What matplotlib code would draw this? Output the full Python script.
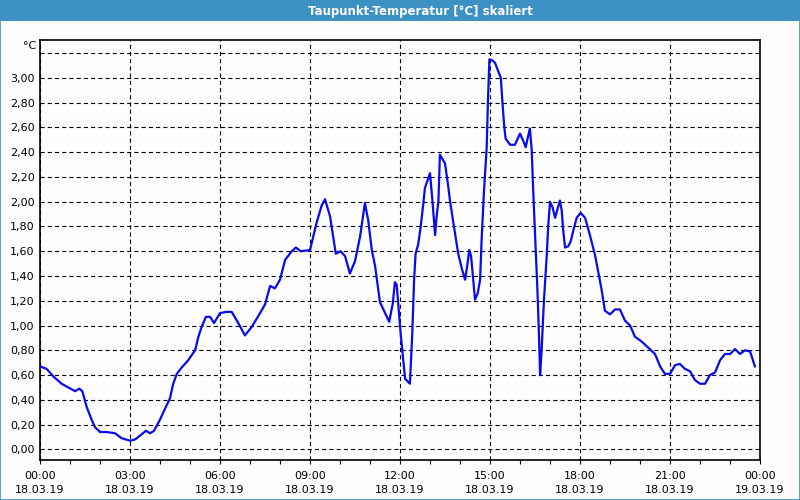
import matplotlib
matplotlib.use("Agg")
import matplotlib.pyplot as plt
from matplotlib.patches import Rectangle
import numpy as np

# time in hours since 18.03.19 00:00, dew point in degC
hours = [0.0, 0.22, 0.44, 0.72, 0.94, 1.17, 1.31, 1.41, 1.56, 1.72, 1.83, 2.0, 2.22, 2.5,
         2.72, 3.0, 3.17, 3.33, 3.53, 3.67, 3.8, 4.0, 4.17, 4.33, 4.44, 4.56, 4.72, 4.94,
         5.17, 5.28, 5.39, 5.53, 5.67, 5.8, 6.0, 6.2, 6.39, 6.61, 6.83, 7.06, 7.31, 7.5,
         7.67, 7.83, 8.0, 8.17, 8.39, 8.53, 8.69, 9.0, 9.22, 9.39, 9.5, 9.67, 9.86, 10.02,
         10.17, 10.33, 10.5, 10.67, 10.83, 10.94, 11.06, 11.17, 11.33, 11.64, 11.76, 11.83,
         11.89, 11.94, 12.02, 12.11, 12.17, 12.33, 12.41, 12.47, 12.52, 12.61, 12.69, 12.78,
         12.83, 13.0, 13.08, 13.13, 13.17, 13.22, 13.28, 13.33, 13.5, 13.61, 13.67, 13.8,
         13.94, 14.06, 14.17, 14.24, 14.31, 14.37, 14.44, 14.5, 14.59, 14.67, 14.72, 14.8,
         14.89, 14.93, 14.98, 15.09, 15.17, 15.28, 15.36, 15.41, 15.47, 15.52, 15.67, 15.83,
         16.0, 16.11, 16.19, 16.28, 16.33, 16.39, 16.44, 16.5, 16.58, 16.63, 16.67, 16.72,
         16.8, 16.89, 16.94, 17.0, 17.09, 17.17, 17.24, 17.33, 17.39, 17.44, 17.5, 17.61,
         17.69, 17.78, 17.89, 18.02, 18.17, 18.33, 18.5, 18.64, 18.72, 18.83, 19.0, 19.17,
         19.33, 19.5, 19.67, 19.83, 20.06, 20.28, 20.5, 20.67, 20.83, 21.0, 21.17, 21.33,
         21.5, 21.67, 21.83, 22.0, 22.17, 22.33, 22.5, 22.67, 22.83, 23.0, 23.17, 23.33,
         23.5, 23.67, 23.83]
taupunkt = [0.67, 0.65, 0.59, 0.53, 0.50, 0.47, 0.49, 0.47, 0.34, 0.24, 0.18, 0.14, 0.14, 0.13,
            0.09, 0.07, 0.08, 0.11, 0.15, 0.13, 0.15, 0.24, 0.33, 0.41, 0.53, 0.61, 0.66, 0.72,
            0.80, 0.91, 0.99, 1.07, 1.07, 1.02, 1.10, 1.11, 1.11, 1.02, 0.92, 0.99, 1.09, 1.17,
            1.32, 1.30, 1.37, 1.53, 1.60, 1.63, 1.60, 1.61, 1.83, 1.97, 2.02, 1.88, 1.58, 1.60,
            1.56, 1.42, 1.52, 1.72, 1.99, 1.85, 1.61, 1.48, 1.19, 1.03, 1.18, 1.35,
            1.33, 1.18, 0.94, 0.72, 0.57, 0.53, 0.94, 1.37, 1.58, 1.66, 1.80, 1.99,
            2.11, 2.23, 2.01, 1.85, 1.73, 1.88, 2.00, 2.38, 2.31, 2.12, 2.00, 1.80,
            1.58, 1.46, 1.37, 1.48, 1.61, 1.56, 1.37, 1.21, 1.26, 1.37, 1.69, 2.09,
            2.44, 2.80, 3.15, 3.14, 3.12, 3.05, 3.00, 2.82, 2.62, 2.51, 2.46, 2.46,
            2.55, 2.49, 2.44, 2.54, 2.59, 2.42, 2.09, 1.75, 1.29, 0.94, 0.60, 0.80,
            1.21, 1.56, 1.80, 2.00, 1.95, 1.87, 1.93, 2.01, 1.93, 1.77, 1.63, 1.64,
            1.68, 1.77, 1.87, 1.91, 1.87, 1.73, 1.57, 1.39, 1.29, 1.12, 1.09, 1.13,
            1.13, 1.04, 1.00, 0.91, 0.87, 0.82, 0.77, 0.67, 0.61, 0.61, 0.68, 0.69,
            0.65, 0.63, 0.56, 0.53, 0.53, 0.60, 0.62, 0.72, 0.77, 0.77, 0.81, 0.77,
            0.80, 0.79, 0.67]

xtick_hours = [0, 3, 6, 9, 12, 15, 18, 21, 24]
xtick_labels = ["00:00\n18.03.19", "03:00\n18.03.19", "06:00\n18.03.19", "09:00\n18.03.19",
                "12:00\n18.03.19", "15:00\n18.03.19", "18:00\n18.03.19", "21:00\n18.03.19",
                "00:00\n19.03.19"]
ytick_values = [0.0, 0.2, 0.4, 0.6, 0.8, 1.0, 1.2, 1.4, 1.6, 1.8, 2.0, 2.2, 2.4, 2.6, 2.8, 3.0, 3.2]
title = "Taupunkt-Temperatur [°C] skaliert"

bg = "#fcfdfc"
bar_blue = "#3c91c4"

plt.rcParams["font.family"] = ["DejaVu Sans"]
plt.rcParams["lines.scale_dashes"] = False

fig = plt.figure(figsize=(8, 5), dpi=100, facecolor=bg)
ax = fig.add_axes([0.05, 0.08, 0.9, 0.84], facecolor=bg)

ax.plot(hours, taupunkt, color="#0a0aee", lw=1.6, zorder=3)

ax.set_xlim(0, 24)
ax.set_ylim(-0.086, 3.306)

ax.set_xticks(xtick_hours)
ax.set_xticklabels(xtick_labels, fontsize=8, linespacing=1.45)
ax.set_xticks(np.arange(0, 25, 1), minor=True)
ax.tick_params(axis="x", which="both", direction="out", length=3, width=0.8, pad=5)

ylabels = [("%.2f" % v).replace(".", ",") for v in ytick_values]
ylabels[-1] = ""
ax.set_yticks(ytick_values)
ax.set_yticklabels(ylabels, fontsize=8)
ax.tick_params(axis="y", length=0, pad=4)

ax.grid(True, which="major", color="black", lw=0.8, linestyle=(0, (3, 2.2)))
for s in ax.spines.values():
    s.set_linewidth(1.2)

fig.text(30 / 800, 1 - 46 / 500, "°C", fontsize=8, ha="center", va="center")

# title bar and window frame
fig.patches.append(Rectangle((0, 1 - 21 / 500), 1, 21 / 500, transform=fig.transFigure,
                             facecolor=bar_blue, edgecolor="none", zorder=0))
fig.patches.append(Rectangle((0.0006, 0.001), 0.9988, 0.998, transform=fig.transFigure,
                             facecolor="none", edgecolor=bar_blue, lw=1.2, zorder=0))
fig.text(420 / 800, 1 - 11 / 500, title, color="white", fontsize=8.5, fontweight="bold",
         ha="center", va="center")

fig.savefig("out.png", dpi=100, facecolor=bg)
